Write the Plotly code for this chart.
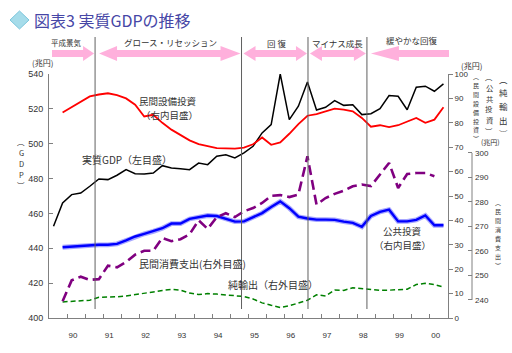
import plotly.graph_objects as go

# ---------------- data (quarterly, index 0..43) ----------------
quarters = list(range(44))
year_labels = ["90", "91", "92", "93", "94", "95", "96", "97", "98", "99", "00"]
year_label_pos = [2.15 + 4 * i for i in range(11)]
half_year_ticks = [1.5 + 2 * i for i in range(22)]

gdp = [452.6, 466.0, 470.8, 471.7, 475.6, 479.8, 479.4, 481.9, 485.1, 482.8,
       482.6, 483.2, 487.4, 486.1, 485.7, 485.1, 488.9, 488.0, 492.8, 493.7,
       491.8, 494.7, 498.5, 506.2, 511.0, 540.0, 513.8, 521.5, 535.4, 519.3,
       520.9, 524.7, 522.0, 522.4, 516.7, 517.2, 520.1, 527.6, 527.2, 519.5,
       532.4, 533.0, 530.1, 534.3]

equipment = [None, 84.2, 86.4, 88.5, 90.8, 91.6, 92.1, 91.3, 90.0, 87.4,
             82.6, 83.3, 80.0, 77.2, 75.0, 72.8, 71.3, 70.3, 69.6, 69.5,
             69.4, 69.8, 71.2, 74.0, 71.0, 72.0, 75.5, 79.5, 82.9, 83.6,
             84.7, 85.8, 85.4, 84.7, 82.0, 78.4, 79.0, 78.2, 79.0, 80.6,
             82.0, 80.0, 81.3, 86.4]

public_inv = [None, 29.0, 29.3, 29.6, 29.8, 30.0, 30.0, 30.4, 31.8, 33.4,
              34.5, 35.5, 36.8, 38.7, 38.7, 40.6, 41.3, 42.0, 41.8, 40.8,
              39.5, 39.6, 41.2, 43.0, 45.5, 47.8, 45.0, 41.5, 40.8, 40.3,
              40.3, 40.2, 39.5, 39.0, 37.4, 41.8, 43.5, 44.4, 39.6, 39.6,
              40.2, 42.0, 38.0, 38.0]

consumption = [None, 239.5, 248.0, 249.5, 248.2, 248.5, 254.0, 253.3, 255.5, 258.5,
               260.1, 260.1, 265.3, 264.0, 264.8, 266.8, 272.5, 269.0, 273.8, 275.4,
               273.8, 276.2, 277.5, 279.6, 282.5, 282.8, 282.0, 283.0, 298.6, 278.9,
               281.6, 283.3, 284.6, 286.4, 287.1, 286.5, 291.0, 295.9, 285.7, 291.4,
               291.8, 291.8, 290.5, None]

net_exports = [None, 6.6, 6.8, 6.9, 7.3, 8.5, 8.5, 8.7, 9.0, 9.5,
               9.9, 10.7, 11.3, 11.7, 11.4, 10.2, 9.6, 10.0, 9.8, 9.5,
               9.0, 8.8, 7.8, 6.2, 5.2, 4.3, 5.0, 6.1, 7.3, 9.5,
               9.0, 11.5, 11.3, 12.4, 12.1, 11.7, 11.3, 11.4, 11.6, 11.8,
               13.7, 14.2, 13.7, 12.7]

period_names = ["平成景気", "グロース・リセッション", "回 復", "マイナス成長", "緩やかな回復"]
period_bounds = [4.58, 20.73, 28.06, 34.56]   # boundaries in quarter index

# ---------------- geometry helpers ----------------
W, H = 512, 353
L, R_PAPER, T, B = 49, 492, 74, 318
X_END = 448
def xp(px):
    return (px - L) / (R_PAPER - L)
def yp(py):
    return (B - py) / (B - T)
def kpx(k):
    return L + (k + 0.5) * (X_END - L) / 44.0

CJK = "Noto Sans CJK JP"
TXT = "#333333"

fig = go.Figure()

# traces
fig.add_trace(go.Scatter(x=quarters, y=gdp, mode="lines", yaxis="y",
                         line=dict(color="#000000", width=1.5)))
fig.add_trace(go.Scatter(x=quarters, y=equipment, mode="lines", yaxis="y2",
                         line=dict(color="#ff0000", width=1.8)))
fig.add_trace(go.Scatter(x=quarters, y=public_inv, mode="lines", yaxis="y2",
                         line=dict(color="rgba(130,130,255,0.7)", width=4.8)))
fig.add_trace(go.Scatter(x=quarters, y=public_inv, mode="lines", yaxis="y2",
                         line=dict(color="#0000ff", width=2.4)))
fig.add_trace(go.Scatter(x=quarters, y=net_exports, mode="lines", yaxis="y2",
                         line=dict(color="#008000", width=1.5, dash="5px,3px")))
fig.add_trace(go.Scatter(x=quarters, y=consumption, mode="lines", yaxis="y3",
                         line=dict(color="#800080", width=2.6, dash="10px,5px")))

axis_col = "#808080"
x_dom_end = xp(X_END)
fig.update_layout(
    width=W, height=H,
    margin=dict(l=L, r=W - R_PAPER, t=T, b=H - B, pad=0),
    paper_bgcolor="white", plot_bgcolor="white",
    showlegend=False,
    font=dict(family="Liberation Sans, " + CJK, color=TXT),
    xaxis=dict(domain=[0, x_dom_end], range=[-0.5, 43.5],
               tickmode="array", tickvals=year_label_pos, ticktext=year_labels,
               ticks="", showline=True, linecolor=axis_col, linewidth=1,
               showgrid=False, zeroline=False, tickfont=dict(size=8),
               ticklabelstandoff=9,
               minor=dict(tickmode="array", tickvals=half_year_ticks,
                          ticks="inside", ticklen=4, tickcolor=axis_col, showgrid=False)),
    yaxis=dict(range=[400, 540], tick0=400, dtick=20, ticks="inside", ticklen=4,
               tickcolor=axis_col, showline=True, linecolor=axis_col,
               showgrid=False, zeroline=False, tickfont=dict(size=9),
               ticklabelstandoff=3),
    yaxis2=dict(overlaying="y", side="right", anchor="x", range=[0, 100],
                tick0=0, dtick=10, ticks="outside", ticklen=4, tickcolor=axis_col,
                showline=True, linecolor=axis_col, showgrid=False, zeroline=False,
                tickfont=dict(size=8)),
    yaxis3=dict(overlaying="y", side="right", anchor="free", position=xp(472),
                range=[232.65, 332.2], tickvals=[240, 250, 260, 270, 280, 290, 300],
                ticks="inside", ticklen=4, tickcolor=axis_col, showline=False,
                showgrid=False, zeroline=False, tickfont=dict(size=8),
                ticklabelstandoff=2),
)

shapes = []
# outer axis line (only over its labelled span)
shapes.append(dict(type="line", xref="paper", yref="y3", x0=xp(472), x1=xp(472),
                   y0=240, y1=300, line=dict(color=axis_col, width=1)))
# period boundary lines
for b in period_bounds:
    shapes.append(dict(type="line", xref="x", yref="paper", x0=b, x1=b,
                       y0=yp(309), y1=yp(37), line=dict(color="#606060", width=1)))

# header arrows
def arrow_path(x0, x1, lh, rh):
    yb0, yb1, yh0, yh1, ym = 50, 57, 46, 61, 53.5
    pts = []
    if lh:
        pts += [(x0, ym), (x0 + lh, yh0), (x0 + lh, yb0)]
    else:
        pts += [(x0, yb0)]
    if rh:
        pts += [(x1 - rh, yb0), (x1 - rh, yh0), (x1, ym), (x1 - rh, yh1), (x1 - rh, yb1)]
    else:
        pts += [(x1, yb0), (x1, yb1)]
    if lh:
        pts += [(x0 + lh, yb1), (x0 + lh, yh1)]
    else:
        pts += [(x0, yb1)]
    return "M " + " L ".join(f"{xp(a):.4f},{yp(b):.4f}" for a, b in pts) + " Z"

bpx = [kpx(b) for b in period_bounds]
arrow_specs = [
    (52, bpx[0] - 1, 0, 11),
    (bpx[0] + 4, bpx[1] - 1, 18, 20),
    (bpx[1] + 2, bpx[2] - 1, 12, 11),
    (bpx[2] + 2, bpx[3] - 1, 12, 12),
    (bpx[3] + 4, 449, 28, 0),
]
for x0, x1, lh, rh in arrow_specs:
    shapes.append(dict(type="path", xref="paper", yref="paper",
                       path=arrow_path(x0, x1, lh, rh),
                       fillcolor="#ffb0dc", line=dict(width=0)))

# title diamond
dia = [(10, 20), (19.5, 11), (29, 20), (19.5, 29)]
shapes.append(dict(type="path", xref="paper", yref="paper",
                   path="M " + " L ".join(f"{xp(a):.4f},{yp(b):.4f}" for a, b in dia) + " Z",
                   fillcolor="#a6dcea", line=dict(color="#7cc6dc", width=1)))
fig.update_layout(shapes=shapes)

ann = []
def text(t, x, y, size, xanchor="center", color=TXT, family=CJK, align="center"):
    ann.append(dict(text=t, x=xp(x), y=yp(y), xref="paper", yref="paper",
                    xanchor=xanchor, yanchor="middle", showarrow=False, align=align,
                    borderpad=0,
                    font=dict(size=size, color=color, family=family)))

def vtext(chars, x, y_first, step, size):
    # vertical (stacked) text, one glyph per annotation
    for i, c in enumerate(chars):
        text(c, x, y_first + i * step, size)

# title
text("図表3 実質GDPの推移", 33, 20, 16, xanchor="left", color="#4646a6")

# header period labels
label_px = [(66, 42, 7.5), (170, 42, 8.5), (276, 43, 8.5), (337, 43, 8.5), (412, 40, 8.5)]
for name, (x, y, s) in zip(period_names, label_px):
    text(name, x, y, s)

# in-plot labels
text("民間設備投資", 198, 100.5, 9.5, xanchor="right")
text("（右内目盛）", 199, 114.5, 9.5, xanchor="right")
text("実質GDP（左目盛）", 127, 159, 10)
text("民間消費支出(右外目盛)", 192, 263, 10)
text("純輸出（右外目盛）", 273, 284, 10)
text("公共投資", 402, 230.5, 9.5)
text("（右内目盛）", 402, 244.5, 9.5)

# axis unit labels
text("(兆円)", 42, 63, 8)
text("(兆円)", 471, 65, 8)
text("(兆円)", 490, 142, 7)
vtext(["︵", "G", "D", "P", "︶"], 21, 141, 11, 7.5)
vtext(["︵", "民", "間", "設", "備", "投", "資", "︶"], 476, 77, 8.8, 6)
vtext(["︵", "公", "共", "投", "資", "︶"], 489, 77, 10.8, 7.3)
vtext(["︵", "純", "輸", "出", "︶"], 503, 79, 13.5, 8.5)
vtext(["︵", "民", "間", "消", "費", "支", "出", "︶"], 498, 202, 9, 6)

fig.update_layout(annotations=ann)

fig.write_html("out.html")
